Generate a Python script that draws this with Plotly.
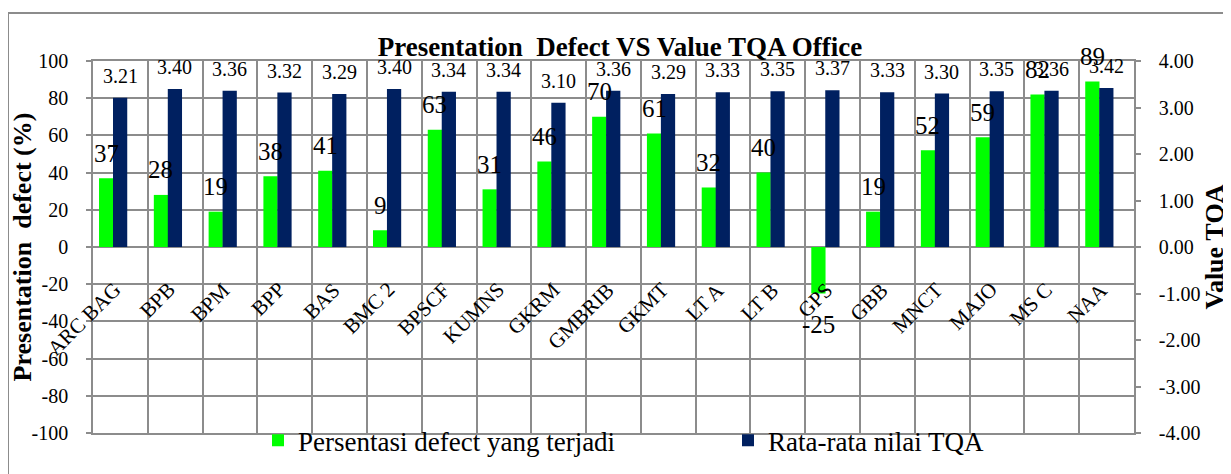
import plotly.graph_objects as go

categories = ["ARC BAG", "BPB", "BPM", "BPP", "BAS", "BMC 2", "BPSCF", "KUMNS", "GKRM",
              "GMBRIB", "GKMT", "LT A", "LT B", "GPS", "GBB", "MNCT", "MAJO", "MS C", "NAA"]
defect_pct = [37, 28, 19, 38, 41, 9, 63, 31, 46, 70, 61, 32, 40, -25, 19, 52, 59, 82, 89]
tqa_avg = [3.21, 3.40, 3.36, 3.32, 3.29, 3.40, 3.34, 3.34, 3.10, 3.36, 3.29, 3.33, 3.35,
           3.37, 3.33, 3.30, 3.35, 3.36, 3.42]
left_ticks = [100, 80, 60, 40, 20, 0, -20, -40, -60, -80, -100]
right_ticks = [4, 3, 2, 1, 0, -1, -2, -3, -4]

FONT = "Liberation Serif"
GRID = "#8c8c8c"
GREEN = "#00ff00"
NAVY = "#002060"

# page is 1231x474; browser body adds an 8px offset at top/left
PAGE_W, PAGE_H = 1231, 474
OFF = 8
W, H = PAGE_W, PAGE_H - OFF
# plot area edges in page pixels: left 93, right 1134, top 61, bottom 433
ML, MT = 93 - OFF, 61 - OFF
MR, MB = W - (1134 - OFF), H - (433 - OFF)
plot_w = W - ML - MR
plot_h = H - MT - MB
cat_px = plot_w / len(categories)

bar_w = 0.26
green_off = -0.39
navy_off = -0.135

fig = go.Figure()
fig.add_trace(go.Bar(
    x=categories, y=defect_pct, name="Persentasi defect yang terjadi",
    marker=dict(color=GREEN, line=dict(width=0)),
    width=bar_w, offset=green_off, yaxis="y",
))
fig.add_trace(go.Bar(
    x=categories, y=tqa_avg, name="Rata-rata nilai TQA",
    marker=dict(color=NAVY, line=dict(width=0)),
    width=bar_w, offset=navy_off, yaxis="y2",
))

annotations = []
g_shift = (green_off + bar_w / 2) * cat_px
n_shift = (navy_off + bar_w / 2) * cat_px
for c, v in zip(categories, defect_pct):
    annotations.append(dict(
        x=c, y=v, xref="x", yref="y", text=str(v), showarrow=False,
        xanchor="center", yanchor="middle", xshift=g_shift,
        yshift=25 if v >= 0 else -31,
        font=dict(family=FONT, size=25, color="black"),
    ))
for c, v in zip(categories, tqa_avg):
    annotations.append(dict(
        x=c, y=v, xref="x", yref="y2", text=f"{v:.2f}", showarrow=False,
        xanchor="center", yanchor="middle", xshift=n_shift, yshift=22,
        font=dict(family=FONT, size=20, color="black"),
    ))
for c in categories:
    annotations.append(dict(
        x=c, y=0, xref="x", yref="y", text=c, showarrow=False, textangle=-45,
        xanchor="right", yanchor="top", xshift=8, yshift=-28,
        font=dict(family=FONT, size=21, color="black"),
    ))

fig.update_layout(
    width=W, height=H,
    margin=dict(l=ML, r=MR, t=MT, b=MB, autoexpand=False),
    paper_bgcolor="white", plot_bgcolor="white",
    barmode="overlay",
    font=dict(family=FONT, size=20, color="black"),
    title=dict(
        text="<b>Presentation  Defect VS Value TQA Office</b>",
        xref="container", x=(620 - OFF) / W, xanchor="center",
        yref="container", y=1 - (47 - OFF) / H, yanchor="middle",
        font=dict(family=FONT, size=27, color="black"),
    ),
    xaxis=dict(
        type="category", tickson="boundaries", showgrid=True, gridcolor=GRID,
        gridwidth=1.5, showticklabels=False, ticks="",
        showline=True, linecolor=GRID, linewidth=1.5, mirror=True,
        range=[-0.5, len(categories) - 0.5],
    ),
    yaxis=dict(
        range=[-100, 100], tickvals=left_ticks, ticktext=[str(t) for t in left_ticks],
        showgrid=True, gridcolor=GRID,
        gridwidth=1.5, zeroline=True, zerolinecolor=GRID, zerolinewidth=2,
        showline=True, linecolor=GRID, linewidth=1.5,
        ticks="outside", ticklen=5, tickcolor=GRID, tickwidth=1.5,
        ticklabelstandoff=14,
        tickfont=dict(family=FONT, size=20, color="black"),
        title=dict(text="<b>Presentation  defect (%)</b>", standoff=7,
                   font=dict(family=FONT, size=26, color="black")),
    ),
    yaxis2=dict(
        range=[-4, 4], tickvals=right_ticks, ticktext=[f"{t:.2f}" for t in right_ticks],
        overlaying="y", side="right", showgrid=False, zeroline=False,
        showline=True, linecolor=GRID, linewidth=1.5,
        ticks="outside", ticklen=5, tickcolor=GRID, tickwidth=1.5,
        ticklabelstandoff=14,
        tickfont=dict(family=FONT, size=20, color="black"),
        title=dict(text="<b>Value TQA</b>", standoff=0,
                   font=dict(family=FONT, size=26, color="black")),
    ),
    legend=dict(
        orientation="h", x=(258 - OFF - ML) / plot_w, xanchor="left",
        y=0.045, yanchor="top", entrywidth=425, entrywidthmode="pixels",
        bgcolor="rgba(0,0,0,0)",
        font=dict(family=FONT, size=27, color="black"),
    ),
    annotations=annotations,
    shapes=[dict(
        type="rect", xref="paper", yref="paper",
        x0=(8 - OFF - ML) / plot_w, x1=(W + 20 - ML) / plot_w,
        y0=-(MB + 20) / plot_h, y1=1 + (MT - (13 - OFF)) / plot_h,
        line=dict(color="#8c8c8c", width=2), layer="below",
    )],
)

fig.write_html("out.html")
